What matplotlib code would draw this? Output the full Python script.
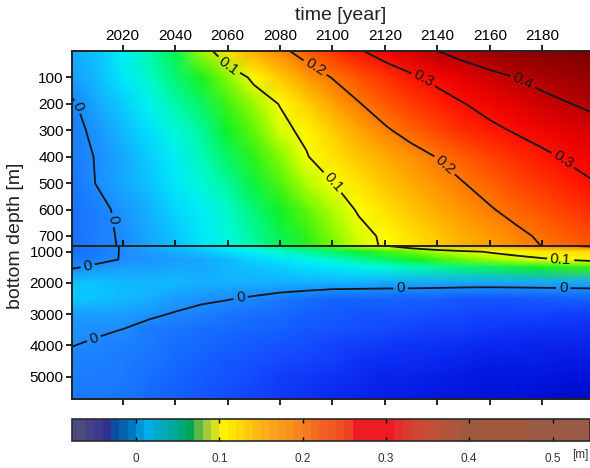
import numpy as np
import matplotlib

matplotlib.use("Agg")
import matplotlib.pyplot as plt
from matplotlib.cm import ScalarMappable
from matplotlib.colors import BoundaryNorm, LinearSegmentedColormap, ListedColormap, Normalize

plt.rcParams["font.family"] = ["Liberation Sans", "DejaVu Sans"]

# --- data: sea level contribution [m], rows = bottom depth, columns = year ---
years = [2000, 2010, 2020, 2030, 2040, 2050, 2060, 2070, 2080, 2090, 2100,
         2110, 2120, 2130, 2140, 2150, 2160, 2170, 2180, 2190, 2200]
depths = [0, 100, 200, 300, 400, 500, 600, 700, 800, 1000, 1250, 1500,
          2000, 2500, 3000, 3500, 4000, 4500, 5000, 5750]

row_0m = [0.010, 0.018, 0.030, 0.045, 0.060, 0.085, 0.120, 0.155, 0.187, 0.222, 0.257,
          0.293, 0.329, 0.364, 0.400, 0.435, 0.470, 0.505, 0.540, 0.575, 0.610]
row_100m = [0.006, 0.015, 0.027, 0.040, 0.053, 0.068, 0.083, 0.105, 0.137, 0.170, 0.202,
            0.231, 0.259, 0.288, 0.315, 0.344, 0.372, 0.401, 0.430, 0.458, 0.486]
row_200m = [-0.003, 0.009, 0.020, 0.032, 0.045, 0.058, 0.072, 0.087, 0.101, 0.132, 0.166,
            0.197, 0.227, 0.252, 0.276, 0.298, 0.322, 0.347, 0.372, 0.397, 0.420]
row_300m = [-0.006, 0.004, 0.014, 0.025, 0.037, 0.050, 0.064, 0.079, 0.093, 0.106, 0.135,
            0.164, 0.193, 0.219, 0.244, 0.266, 0.286, 0.306, 0.326, 0.346, 0.366]
row_400m = [-0.008, 0.001, 0.010, 0.020, 0.031, 0.043, 0.056, 0.070, 0.084, 0.098, 0.118,
            0.138, 0.158, 0.180, 0.202, 0.224, 0.245, 0.266, 0.287, 0.308, 0.328]
row_500m = [-0.010, 0.0005, 0.008, 0.017, 0.027, 0.038, 0.050, 0.063, 0.076, 0.088, 0.099,
            0.119, 0.139, 0.159, 0.179, 0.199, 0.219, 0.239, 0.259, 0.279, 0.298]
row_600m = [-0.012, -0.005, 0.004, 0.012, 0.021, 0.031, 0.042, 0.054, 0.066, 0.078, 0.089,
            0.102, 0.121, 0.140, 0.159, 0.178, 0.196, 0.215, 0.233, 0.251, 0.269]
row_700m = [-0.013, -0.005, 0.002, 0.010, 0.018, 0.027, 0.037, 0.048, 0.059, 0.071, 0.083,
            0.094, 0.103, 0.120, 0.137, 0.154, 0.171, 0.189, 0.207, 0.224, 0.241]
row_800m = [-0.013, -0.006, 0.001, 0.008, 0.016, 0.025, 0.034, 0.044, 0.055, 0.067, 0.079,
            0.090, 0.101, 0.116, 0.132, 0.148, 0.163, 0.177, 0.191, 0.205, 0.218]
row_1000m = [-0.012, -0.006, 0.001, 0.006, 0.011, 0.017, 0.024, 0.032, 0.040, 0.049, 0.058,
             0.066, 0.074, 0.081, 0.088, 0.095, 0.102, 0.108, 0.114, 0.120, 0.126]
row_1250m = [-0.008, -0.004, 0.0008, 0.003, 0.006, 0.010, 0.015, 0.021, 0.027, 0.034, 0.041,
             0.049, 0.057, 0.065, 0.073, 0.080, 0.086, 0.092, 0.097, 0.102, 0.107]
row_1500m = [-0.002, 0.003, 0.005, 0.006, 0.008, 0.010, 0.013, 0.016, 0.020, 0.024, 0.028,
             0.033, 0.038, 0.043, 0.048, 0.053, 0.057, 0.061, 0.065, 0.069, 0.073]
row_2000m = [0.016, 0.016, 0.015, 0.014, 0.013, 0.012, 0.012, 0.012, 0.012, 0.012, 0.011,
             0.011, 0.010, 0.010, 0.010, 0.010, 0.010, 0.010, 0.010, 0.010, 0.010]
row_2500m = [0.019, 0.018, 0.015, 0.011, 0.007, 0.003, 0.001, -0.0023, -0.0074, -0.012, -0.0165,
             -0.018, -0.018, -0.019, -0.021, -0.0245, -0.026, -0.0245, -0.022, -0.020, -0.0186]
row_3000m = [0.006, 0.006, 0.005, 0.003, -0.0013, -0.0049, -0.009, -0.011, -0.015, -0.019, -0.022,
             -0.025, -0.027, -0.029, -0.031, -0.033, -0.035, -0.036, -0.037, -0.038, -0.039]
row_3500m = [0.003, 0.002, -0.0002, -0.0058, -0.009, -0.012, -0.015, -0.018, -0.021, -0.025, -0.028,
             -0.031, -0.034, -0.036, -0.038, -0.040, -0.042, -0.043, -0.044, -0.045, -0.046]
row_4000m = [0.0005, -0.002, -0.004, -0.008, -0.012, -0.016, -0.020, -0.024, -0.028, -0.032, -0.035,
             -0.038, -0.041, -0.043, -0.045, -0.047, -0.049, -0.050, -0.051, -0.052, -0.053]
row_4500m = [-0.003, -0.004, -0.006, -0.010, -0.015, -0.020, -0.025, -0.029, -0.033, -0.037, -0.040,
             -0.043, -0.046, -0.048, -0.050, -0.052, -0.054, -0.055, -0.056, -0.057, -0.058]
row_5000m = [-0.005, -0.006, -0.008, -0.012, -0.018, -0.024, -0.029, -0.034, -0.038, -0.042, -0.045,
             -0.048, -0.051, -0.053, -0.055, -0.057, -0.059, -0.060, -0.061, -0.062, -0.063]
row_5750m = [-0.006, -0.007, -0.009, -0.014, -0.020, -0.026, -0.032, -0.037, -0.041, -0.045, -0.049,
             -0.052, -0.055, -0.057, -0.059, -0.061, -0.063, -0.064, -0.066, -0.067, -0.068]

contour_levels = [0.0, 0.1, 0.2, 0.3, 0.4]
year_ticks = [2020, 2040, 2060, 2080, 2100, 2120, 2140, 2160, 2180]
upper_depth_ticks = [100, 200, 300, 400, 500, 600, 700]
lower_depth_ticks = [1000, 2000, 3000, 4000, 5000]
colorbar_ticks = [0.0, 0.1, 0.2, 0.3, 0.4, 0.5]

values = np.array([
    row_0m, row_100m, row_200m, row_300m, row_400m, row_500m, row_600m, row_700m,
    row_800m, row_1000m, row_1250m, row_1500m, row_2000m, row_2500m, row_3000m,
    row_3500m, row_4000m, row_4500m, row_5000m, row_5750m,
])

# --- colours ---
VMIN, VMAX = -0.08, 0.6
FIELD_NODES = [
    (-0.08, "#000090"), (-0.065, "#0010d8"), (-0.05, "#0a28f0"), (-0.035, "#1448ff"),
    (-0.02, "#1462ff"), (-0.008, "#1a7aff"), (0.0, "#1e8cff"), (0.012, "#12b4ff"),
    (0.025, "#00e4ff"), (0.035, "#00fae8"), (0.05, "#00f890"), (0.065, "#10f020"),
    (0.08, "#70f800"), (0.092, "#d0ff00"), (0.1, "#ffff00"), (0.15, "#ffb400"),
    (0.2, "#ff7800"), (0.25, "#ff3c00"), (0.3, "#ff0a00"), (0.35, "#e00000"),
    (0.4, "#b80000"), (0.5, "#900000"), (0.6, "#780000"),
]
field_cmap = LinearSegmentedColormap.from_list(
    "field", [((v - VMIN) / (VMAX - VMIN), c) for v, c in FIELD_NODES]
)
field_norm = Normalize(VMIN, VMAX)

CB_COLORS = (
    ["#4b4a7d", "#4b4a7d", "#463f85", "#3b3a8c", "#2e3192", "#0b4fa2", "#0562ad", "#0077c0",
     "#0095d7", "#00aeef", "#00aacb", "#00a9b4", "#00a99a", "#00a87c", "#00a651", "#5cb947",
     "#a1cd3a", "#d7df23", "#fff200", "#ffe600", "#fed809", "#fdc90f", "#fcbb14", "#fbae17",
     "#faa31a", "#f9991c", "#f8901e", "#f6851f", "#f47920", "#f36c22", "#f26024", "#f15a24",
     "#f04e24", "#ef4123"]
    + ["#ed1c24"] * 5
    + ["#e42d2a", "#dc392e", "#d34331", "#ca4a35", "#c24f38", "#b9533a", "#b0553c", "#a8573e"]
    + ["#a0593f"] * 8
    + ["#9a5a46"] * 8
)
cb_bounds = np.round(np.linspace(-0.08, 0.55, len(CB_COLORS) + 1), 3)

W, H = 590, 468
fig = plt.figure(figsize=(W / 100, H / 100), dpi=100)


def fig_box(left, top, right, bottom):
    return [left / W, 1 - bottom / H, (right - left) / W, (bottom - top) / H]


ax_top = fig.add_axes(fig_box(72, 51, W, 246))
ax_bot = fig.add_axes(fig_box(72, 246, W, 399))
cax = fig.add_axes(fig_box(72, 418.5, W, 441))

fmt = lambda v: f"{v:g}"
top_labels = [(2003, 211), (2017.3, 638), (2061, 45), (2100, 498), (2094, 53),
              (2143, 430), (2135, 102), (2188, 411), (2173, 109)]
bot_labels = [(2006.7, 1461), (2009, 3784), (2065, 2494), (2126, 2171),
              (2188, 2171), (2187, 1268)]

for ax, ylim, ticks, labels in (
    (ax_top, (738, 0), upper_depth_ticks, top_labels),
    (ax_bot, (5715, 818), lower_depth_ticks, bot_labels),
):
    ax.pcolormesh(years, depths, values, cmap=field_cmap, norm=field_norm, shading="gouraud")
    ax.set_xlim(2000.7, 2198.2)
    ax.set_ylim(*ylim)
    cs = ax.contour(years, depths, values, levels=contour_levels, colors="#161616", linewidths=1.3)
    ax.clabel(cs, manual=labels, inline=True, fmt=fmt, fontsize=11, inline_spacing=3)
    ax.set_yticks(ticks)
    ax.set_xticks(year_ticks)
    ax.spines["right"].set_visible(False)
    for side in ("left", "top", "bottom"):
        ax.spines[side].set_linewidth(1.4)
        ax.spines[side].set_color("#222222")
    ax.tick_params(axis="y", direction="out", length=4, width=1.2, labelsize=11, pad=2)

ax_top.tick_params(axis="x", top=True, bottom=False, labeltop=True, labelbottom=False,
                   direction="out", length=4, width=1.2, labelsize=11, pad=2)
ax_bot.tick_params(axis="x", top=True, bottom=True, labeltop=False, labelbottom=False,
                   direction="out", length=4, width=1.2)

fig.text(341 / W, 1 - 15 / H, "time [year]", ha="center", va="center", fontsize=14, color="#222222")
fig.text(16 / W, 1 - 236 / H, "bottom depth [m]", ha="center", va="center", rotation=90,
         fontsize=14, color="#222222")

# --- colour bar ---
cb_cmap = ListedColormap(CB_COLORS)
cb = fig.colorbar(ScalarMappable(norm=BoundaryNorm(cb_bounds, cb_cmap.N), cmap=cb_cmap),
                  cax=cax, orientation="horizontal", spacing="proportional", ticks=colorbar_ticks)
cb.set_ticklabels([fmt(t) for t in colorbar_ticks])
cb.minorticks_off()
cax.set_xlim(-0.0768, 0.545)
cax.tick_params(direction="in", length=3, width=1, top=True, bottom=True,
                labelsize=8.5, labelcolor="#333333", pad=9)
cb.outline.set_linewidth(1.2)
cb.outline.set_edgecolor("#2a2a2a")
fig.text(580 / W, 1 - 455 / H, "[m]", ha="center", va="center", fontsize=8.5, color="#333333")

fig.savefig("out.png", dpi=100)
